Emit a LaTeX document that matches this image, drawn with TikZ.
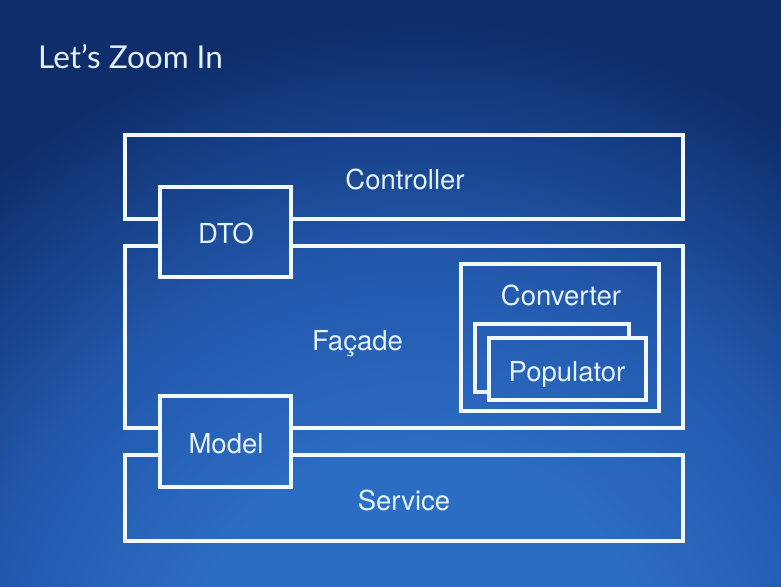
\documentclass[tikz,border=0pt]{standalone}
\usepackage{fontspec}
\setmainfont{TeX Gyre Heros}
\newfontfamily\titlefont{Lato}
\usepackage{xcolor}
\usetikzlibrary{positioning}
\definecolor{bgin}{HTML}{2C6DC4}
\definecolor{bgmid}{HTML}{2258AC}
\definecolor{bgout}{HTML}{0E2D6A}
\definecolor{linewhite}{HTML}{F2F8FF}
\definecolor{textwhite}{HTML}{E4F1FF}
\pgfdeclareradialshading{slidebg}{\pgfpoint{0bp}{0bp}}{%
  color(0bp)=(bgin); color(7bp)=(bgin); color(13bp)=(bgmid);
  color(20bp)=(bgout); color(25bp)=(bgout); color(50bp)=(bgout)}
\tikzset{
  frame/.style n args={2}{
    rectangle, draw=linewhite, line width=3.2pt,
    minimum width=#1, minimum height=#2,
    inner sep=0pt
  },
  boxlabel/.style={
    anchor=base, text=textwhite, inner sep=0pt,
    font=\fontsize{27.5}{32}\selectfont
  }
}

\begin{document}
\begin{tikzpicture}[x=1pt, y=-1pt]

%------------------------------------------------------
% BACKGROUND
%------------------------------------------------------
\useasboundingbox (0,0) rectangle (781,586);
\begin{scope}
  \clip (0,0) rectangle (781,586);
  \shade[shading=slidebg] (420,700) circle (850);
\end{scope}

\node[anchor=base west, inner sep=0pt, text=textwhite,
      font=\titlefont\fontsize{31.5}{36}\selectfont] (title) at (38,68) {Let’s Zoom In};

%------------------------------------------------------
% BOXES
%------------------------------------------------------

% objects passed between the layers
\node[frame={131}{90}] (dto) at (225.5,232) {};
\node[frame={131}{91}] (model) at (225.5,441.5) {};

% converter with its populators
\node[frame={198}{147}] (converter) at (560,337.5) {};
\node[frame={157}{62}] (popfront) at (567.5,369) {};

% layers (cut where the DTO / Model boxes sit)
\begin{scope}[even odd rule]
  \clip (0,0) rectangle (781,586)
    (dto.north west) rectangle (dto.south east)
    (model.north west) rectangle (model.south east)
    (popfront.north west) rectangle (popfront.south east);
  \node[frame={558}{84}] (controller) at (404,177) {};
  \node[frame={558}{182}] (facade) at (404,337) {};
  \node[frame={558}{86}] (service) at (404,498) {};
  \node[frame={154}{68}] (popback) at (552,358) {};
\end{scope}

%------------------------------------------------------
% LABELS
%------------------------------------------------------
\node[boxlabel] (controllerlabel) at (405,189) {Controller};
\node[boxlabel] (dtolabel) at (226,243) {DTO};
\node[boxlabel] (facadelabel) at (357.5,350) {Façade};
\node[boxlabel] (converterlabel) at (561,305) {Converter};
\node[boxlabel] (populatorlabel) at (567,381) {Populator};
\node[boxlabel] (modellabel) at (226,453) {Model};
\node[boxlabel] (servicelabel) at (404,510) {Service};

\end{tikzpicture}
\end{document}
